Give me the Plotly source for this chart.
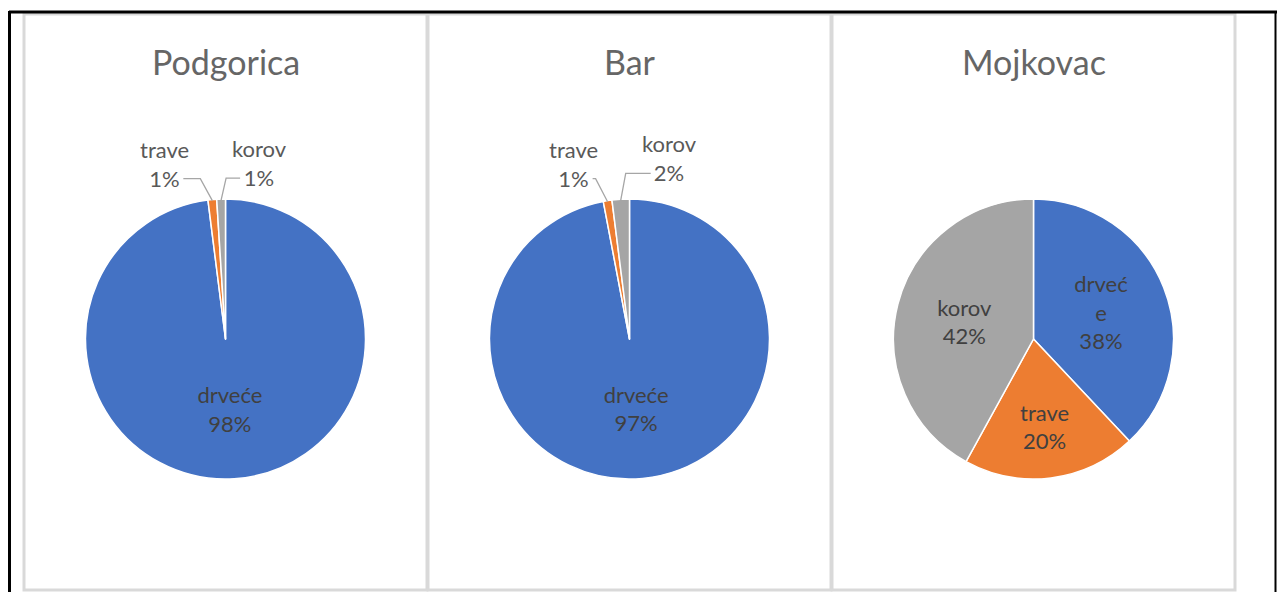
import numpy as np
import plotly.graph_objects as go

# ---------------- data ----------------
cities = ["Podgorica", "Bar", "Mojkovac"]
categories = ["drveće", "trave", "korov"]
podgorica_values = [98, 1, 1]
bar_values = [97, 1, 2]
mojkovac_values = [38, 20, 42]
# Excel wrapped the label "drveće" inside the Mojkovac slice
mojkovac_text = ["drveć<br>e", "trave", "korov"]
slice_colors = ["#4472C4", "#ED7D31", "#A5A5A5"]

# ---------------- layout geometry ----------------
W, H = 1277, 592
panels_x = [(24, 427), (428, 831), (832, 1235)]
panel_top, panel_bottom = 14, 590
pie_cy = 339
pie_r = 140
title_y = 62

FONT = "Lato, 'Open Sans', sans-serif"
TXT_IN = "#404040"
TXT_OUT = "#595959"
LBL_SIZE = 22

fig = go.Figure()

series = [
    (podgorica_values, categories, ["inside", "none", "none"]),
    (bar_values, categories, ["inside", "none", "none"]),
    (mojkovac_values, mojkovac_text, ["inside", "inside", "inside"]),
]

# label offsets (px) for the small outside labels: (slice index, dx, dy, side)
outside_offsets = {
    0: [(1, -48, -36, -1), (2, 38, -36, 1)],
    1: [(1, -34, -37, -1), (2, 49, -41, 1)],
}

annotations = []
shapes = []

for i, (vals, txt, tpos) in enumerate(series):
    x0, x1 = panels_x[i]
    cx = (x0 + x1) / 2
    dom_x = [(cx - pie_r) / W, (cx + pie_r) / W]
    dom_y = [1 - (pie_cy + pie_r) / H, 1 - (pie_cy - pie_r) / H]
    fig.add_trace(go.Pie(
        labels=categories,
        values=vals,
        text=txt,
        texttemplate="%{text}<br>%{percent}",
        textposition=tpos,
        insidetextorientation="horizontal",
        insidetextfont=dict(family=FONT, size=LBL_SIZE, color=TXT_IN),
        sort=False,
        direction="clockwise",
        rotation=0,
        marker=dict(colors=slice_colors, line=dict(color="white", width=1.5)),
        domain=dict(x=dom_x, y=dom_y),
        showlegend=False,
        hoverinfo="label+percent",
    ))
    # panel border
    shapes.append(dict(type="rect", xref="paper", yref="paper",
                       x0=x0 / W, x1=x1 / W, y0=1 - panel_bottom / H, y1=1 - panel_top / H,
                       line=dict(color="#d9d9d9", width=3), fillcolor="rgba(0,0,0,0)",
                       layer="below"))
    # title
    annotations.append(dict(text=cities[i], x=cx / W, y=1 - title_y / H,
                            xref="paper", yref="paper", showarrow=False,
                            xanchor="center", yanchor="middle",
                            font=dict(family=FONT, size=34, color="#666666")))
    # outside labels with elbow leader lines
    v = np.array(vals, dtype=float)
    for idx, dx, dy, side in outside_offsets.get(i, []):
        frac = (v[:idx].sum() + v[idx] / 2) / v.sum()
        th = 2 * np.pi * frac
        px = cx + pie_r * np.sin(th)
        py = pie_cy - pie_r * np.cos(th)
        tcx, tcy = px + dx, py + dy
        pct = v[idx] / v.sum() * 100
        annotations.append(dict(text=f"{categories[idx]}<br>{pct:.0f}%",
                                x=tcx / W, y=1 - tcy / H, xref="paper", yref="paper",
                                showarrow=False, xanchor="center", yanchor="middle",
                                font=dict(family=FONT, size=LBL_SIZE, color=TXT_OUT)))
        ly = tcy + 15
        if side < 0:
            sx = tcx + 19
            ex = px - 12
        else:
            sx = tcx - 19
            ex = px + 5
        path = (f"M {sx / W},{1 - ly / H} L {ex / W},{1 - ly / H} "
                f"L {px / W},{1 - (py + 1) / H}")
        shapes.append(dict(type="path", xref="paper", yref="paper", path=path,
                           line=dict(color="#a6a6a6", width=1.3)))

# outer black frame (top, left, right)
shapes.append(dict(type="line", xref="paper", yref="paper", x0=9 / W, x1=1, y0=1 - 12 / H, y1=1 - 12 / H,
                   line=dict(color="black", width=3)))
shapes.append(dict(type="line", xref="paper", yref="paper", x0=9.5 / W, x1=9.5 / W, y0=0, y1=1 - 11 / H,
                   line=dict(color="black", width=3)))
shapes.append(dict(type="line", xref="paper", yref="paper", x0=1275.5 / W, x1=1275.5 / W, y0=0, y1=1 - 11 / H,
                   line=dict(color="black", width=2)))

fig.update_layout(
    width=W, height=H,
    margin=dict(l=0, r=0, t=0, b=0),
    paper_bgcolor="white",
    plot_bgcolor="white",
    shapes=shapes,
    annotations=annotations,
    font=dict(family=FONT),
)

fig.write_html("out.html")
